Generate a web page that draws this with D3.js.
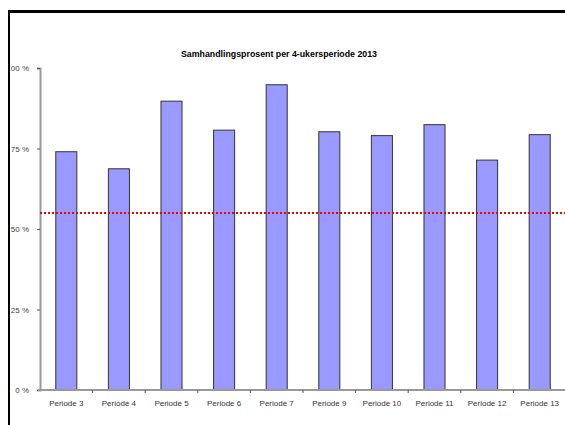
<!DOCTYPE html>
<html>
<head>
<meta charset="utf-8">
<script src="https://cdn.jsdelivr.net/npm/d3@7"></script>
<style>
  body { margin: 0; background: #fff; }
  svg { display: block; font-family: "Liberation Sans", Arial, sans-serif; }
</style>
</head>
<body>
<svg id="chart" width="565" height="425"></svg>
<script>
// chart data
var periods = ['Periode 3', 'Periode 4', 'Periode 5', 'Periode 6', 'Periode 7',
               'Periode 9', 'Periode 10', 'Periode 11', 'Periode 12', 'Periode 13'];
var percent = [74.0, 68.7, 89.7, 80.7, 94.8, 80.2, 79.0, 82.4, 71.4, 79.3];
var target = [55];
var yTicks = [0, 25, 50, 75, 100];
var title = 'Samhandlingsprosent per 4-ukersperiode 2013';

var margin = { top: 68, right: -1, bottom: 35, left: 40 };
var width = 565, height = 425;

var svg = d3.select('svg#chart');

var x = d3.scaleBand()
    .domain(periods)
    .range([margin.left, width - margin.right])
    .paddingInner(0.6)
    .paddingOuter(0.3);

var y = d3.scaleLinear()
    .domain([0, 100])
    .range([height - margin.bottom, margin.top]);

// the left frame edge cuts off the first digit of "100 %"
svg.append('clipPath').attr('id', 'inner')
    .append('rect').attr('x', 10).attr('y', 13).attr('width', width).attr('height', height);

var g = svg.append('g').attr('clip-path', 'url(#inner)');

// title
g.append('text')
    .attr('x', 279)
    .attr('y', 57)
    .attr('text-anchor', 'middle')
    .style('font-size', '8.8px')
    .style('font-weight', 'bold')
    .text(title);

// bars
g.selectAll('.bar')
    .data(percent)
    .enter().append('rect')
        .attr('class', 'bar')
        .attr('x', function(d, i) { return x(periods[i]); })
        .attr('y', function(d) { return y(d); })
        .attr('width', x.bandwidth())
        .attr('height', function(d) { return y(0) - y(d); })
        .attr('fill', '#9999ff')
        .attr('stroke', '#333')
        .attr('stroke-width', 1);

// y axis
var yAxis = g.append('g')
    .attr('transform', 'translate(' + margin.left + ',0)')
    .call(d3.axisLeft(y).tickValues(yTicks).tickSize(3).tickFormat(function(d) { return d + ' %'; }));
yAxis.select('.domain').attr('stroke', '#999').attr('stroke-width', 2);
yAxis.selectAll('.tick line').attr('stroke', '#555');
yAxis.selectAll('.tick text')
    .attr('x', -11)
    .style('font-size', '8px')
    .attr('fill', '#444');

// x axis, ticks between the categories
var xAxis = g.append('g')
    .attr('transform', 'translate(0,' + y(0) + ')');
xAxis.append('line')
    .attr('x1', margin.left - 2).attr('x2', width)
    .attr('stroke', '#999').attr('stroke-width', 2);
xAxis.selectAll('.sep')
    .data(periods.slice(1))
    .enter().append('line')
        .attr('class', 'sep')
        .attr('x1', function(d) { return x(d) - x.step() * x.paddingInner() / 2; })
        .attr('x2', function(d) { return x(d) - x.step() * x.paddingInner() / 2; })
        .attr('y1', 0).attr('y2', 3)
        .attr('stroke', '#555');
xAxis.selectAll('.lbl')
    .data(periods)
    .enter().append('text')
        .attr('class', 'lbl')
        .attr('x', function(d) { return x(d) + x.bandwidth() / 2; })
        .attr('y', 16)
        .attr('text-anchor', 'middle')
        .style('font-size', '8px')
        .attr('fill', '#333')
        .text(function(d) { return d; });

// target line
g.selectAll('.target')
    .data(target)
    .enter().append('line')
        .attr('class', 'target')
        .attr('x1', margin.left).attr('x2', width)
        .attr('y1', function(d) { return y(d); })
        .attr('y2', function(d) { return y(d); })
        .attr('stroke', '#e00')
        .attr('stroke-width', 2)
        .attr('stroke-dasharray', '2,2');

// frame, only top and left edges show
svg.append('line').attr('x1', 8).attr('x2', width).attr('y1', 11.5).attr('y2', 11.5)
    .attr('stroke', '#000').attr('stroke-width', 3);
svg.append('line').attr('x1', 9).attr('x2', 9).attr('y1', 10).attr('y2', height)
    .attr('stroke', '#000').attr('stroke-width', 2);
</script>
</body>
</html>
